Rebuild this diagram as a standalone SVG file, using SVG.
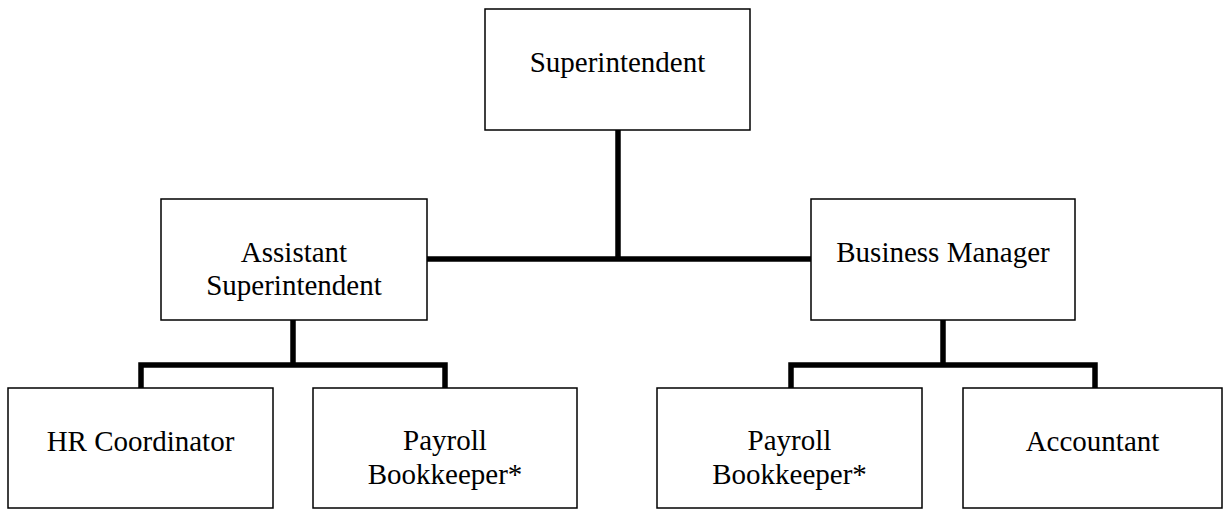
<svg xmlns="http://www.w3.org/2000/svg" width="1225" height="510" viewBox="0 0 1225 510">
  <style>
    .box { fill: #ffffff; stroke: #000000; stroke-width: 1.5; }
    .lbl { font-family: "Liberation Serif", "Times New Roman", serif; font-size: 29px; fill: #000000; text-anchor: middle; }
    .wire { fill: none; stroke: #000000; stroke-width: 5.5; stroke-linecap: butt; stroke-linejoin: miter; }
  </style>
  <rect width="1225" height="510" fill="#ffffff"/>

  <!-- reporting lines -->
  <g id="connectors">
    <path class="wire" d="M618,130 V259"/>
    <path class="wire" d="M427,259 H811"/>
    <path class="wire" d="M293,320 V365 M141,388 V365 H445 V388"/>
    <path class="wire" d="M943,320 V365 M791,388 V365 H1095 V388"/>
  </g>

  <g id="superintendent">
    <rect class="box" x="485" y="9" width="265" height="121"/>
    <text class="lbl" x="617.5" y="72">Superintendent</text>
  </g>

  <g id="assistant-superintendent">
    <rect class="box" x="161" y="199" width="266" height="121"/>
    <text class="lbl" x="294" y="262">Assistant</text>
    <text class="lbl" x="294" y="295">Superintendent</text>
  </g>

  <g id="business-manager">
    <rect class="box" x="811" y="199" width="264" height="121"/>
    <text class="lbl" x="943" y="262">Business Manager</text>
  </g>

  <g id="hr-coordinator">
    <rect class="box" x="8" y="388" width="265" height="120"/>
    <text class="lbl" x="140.5" y="451">HR Coordinator</text>
  </g>

  <g id="payroll-bookkeeper-left">
    <rect class="box" x="313" y="388" width="264" height="120"/>
    <text class="lbl" x="445" y="450">Payroll</text>
    <text class="lbl" x="445" y="484">Bookkeeper*</text>
  </g>

  <g id="payroll-bookkeeper-right">
    <rect class="box" x="657" y="388" width="265" height="120"/>
    <text class="lbl" x="789.5" y="450">Payroll</text>
    <text class="lbl" x="789.5" y="484">Bookkeeper*</text>
  </g>

  <g id="accountant">
    <rect class="box" x="963" y="388" width="259" height="120"/>
    <text class="lbl" x="1092.5" y="451">Accountant</text>
  </g>
</svg>
